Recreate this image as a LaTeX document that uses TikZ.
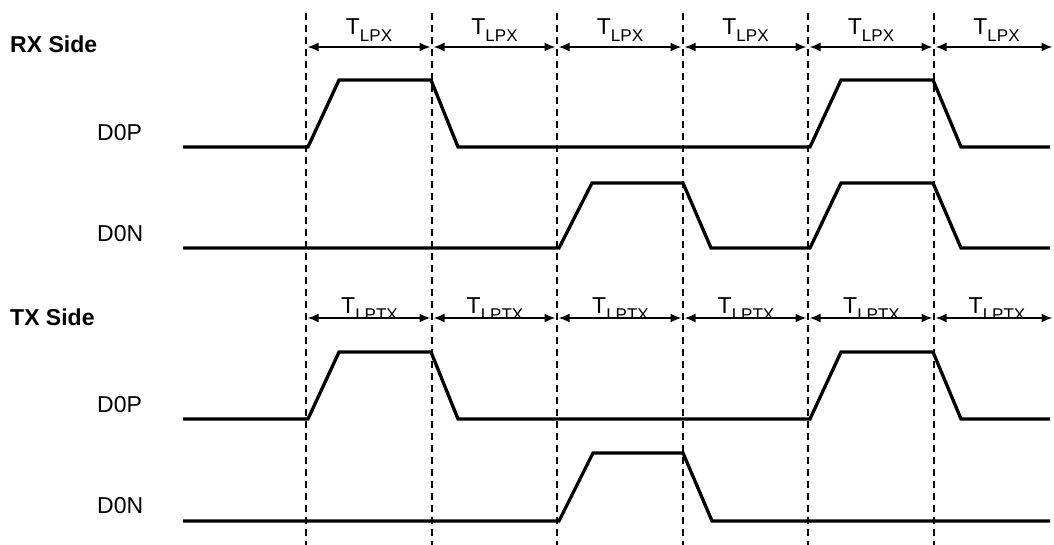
\documentclass[tikz,border=0pt]{standalone}
\usepackage{fontspec}
\setmainfont{Liberation Sans}
\usetikzlibrary{arrows.meta}
\begin{document}
\begin{tikzpicture}[x=1pt,y=-1pt,
  sig/.style={line width=3.3pt, line join=miter},
  vgrid/.style={line width=1.6pt, dash pattern=on 7pt off 5pt},
  span/.style={line width=1.8pt, {Latex[length=11pt,width=9pt]}-{Latex[length=11pt,width=9pt]}},
  lbl/.style={font=\fontsize{23}{27}\selectfont, inner sep=0pt, anchor=base west},
  hdr/.style={font=\fontsize{23}{27}\selectfont\bfseries, inner sep=0pt, anchor=base west},
  tl/.style={font=\fontsize{23}{27}\selectfont, inner sep=0pt, anchor=base}]
\useasboundingbox (0,0) rectangle (1054,545);
\newcommand{\sub}[1]{\raisebox{-7pt}{\fontsize{17}{17}\selectfont #1}}
% dashed grid lines
\foreach \i/\x in {0/306,1/432,2/557,3/683,4/808,5/934}{
  \coordinate (top\i) at (\x,13);
  \coordinate (bot\i) at (\x,545);
  \draw[vgrid] (top\i) -- (bot\i);
  \coordinate (ra\i) at (\x,47);
  \coordinate (ta\i) at (\x,318);
}
\coordinate (ra6) at (1054,47);
\coordinate (ta6) at (1054,318);
% headers and signal names
\node[hdr] (rxside) at (10,53) {RX Side};
\node[hdr] (txside) at (10,325) {TX Side};
\node[lbl] (rxp) at (97,141) {D0P};
\node[lbl] (rxn) at (97,242) {D0N};
\node[lbl] (txp) at (97,412) {D0P};
\node[lbl] (txn) at (97,513) {D0N};
% RX span labels and arrows
\foreach \i/\m in {0/369,1/494.5,2/620,3/745.5,4/871,5/996.5}{
  \node[tl] (rl\i) at (\m,35) {T\sub{LPX}};
}
\foreach \i/\j in {0/1,1/2,2/3,3/4,4/5,5/6}{
  \draw[span] ([xshift=1.5pt]ra\i) -- ([xshift=-1.5pt]ra\j);
}
% TX span labels (clipped) and arrows
\begin{scope}
  \clip (0,0) rectangle (1054,316.5);
  \foreach \i/\m in {0/369.5,1/495,2/620.5,3/746,4/871.5,5/997}{
    \node[tl] (tl\i) at (\m,313.5) {T\sub{LPTX}};
  }
\end{scope}
\foreach \i/\j in {0/1,1/2,2/3,3/4,4/5,5/6}{
  \draw[span] ([xshift=1.5pt]ta\i) -- ([xshift=-1.5pt]ta\j);
}
% RX waveforms
\draw[sig] (183,147) -- (308,147) -- (339,80) -- (431,80) -- (458,147)
  -- (810,147) -- (841,80) -- (933,80) -- (961,147) -- (1050,147);
\draw[sig] (183,248) -- (559,248) -- (592,183) -- (683,183) -- (711,248)
  -- (810,248) -- (841,183) -- (933,183) -- (961,248) -- (1050,248);
% TX waveforms
\draw[sig] (183,419) -- (308,419) -- (339,352) -- (431,352) -- (458,419)
  -- (810,419) -- (841,352) -- (933,352) -- (961,419) -- (1050,419);
\draw[sig] (183,521) -- (559,521) -- (593,453) -- (683,453) -- (712,521)
  -- (1050,521);
\end{tikzpicture}
\end{document}
